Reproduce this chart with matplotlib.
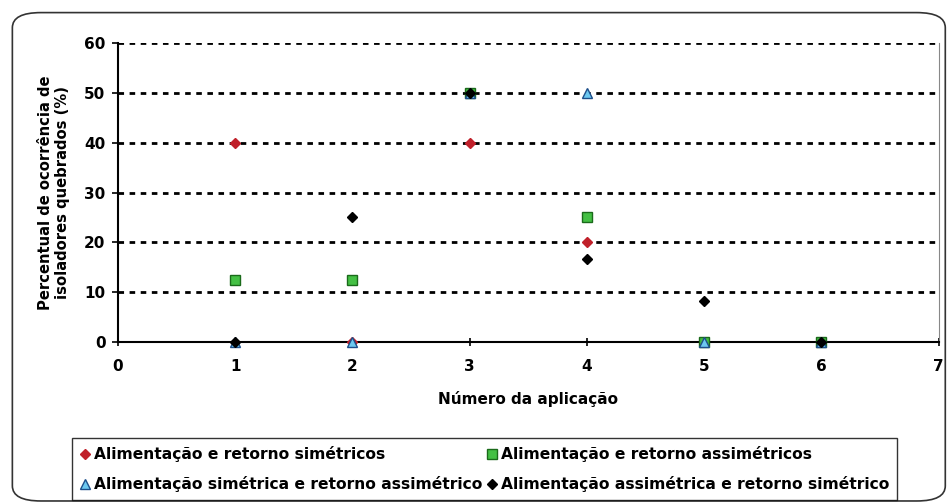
import matplotlib.pyplot as plt
from matplotlib.patches import FancyBboxPatch

plt.rcParams['font.family'] = ['DejaVu Sans']
plt.rcParams['font.weight'] = 'bold'

# dados
aplicacao = [1, 2, 3, 4, 5, 6]
sim_sim = [40, 0, 40, 20, 0, 0]
assim_assim = [12.5, 12.5, 50, 25, 0, 0]
sim_assim = [0, 0, 50, 50, 0, 0]
assim_sim = [0, 25, 50, 16.7, 8.3, 0]

nomes = ["Alimentação e retorno simétricos",
         "Alimentação e retorno assimétricos",
         "Alimentação simétrica e retorno assimétrico",
         "Alimentação assimétrica e retorno simétrico"]

fig = plt.figure(figsize=(9.51, 5.04), dpi=100)
fig.patches.append(FancyBboxPatch((0.013, 0.006), 0.981, 0.969, boxstyle="round,pad=0,rounding_size=0.03",
                                  transform=fig.transFigure, fill=False, ec='#333333', lw=1.2))
ax = fig.add_axes([0.124, 0.321, 0.863, 0.594])

h1, = ax.plot(aplicacao, sim_sim, linestyle='none', marker='D', ms=5, color='#c0202a', mec='#c0202a',
              clip_on=False, zorder=3)
h2, = ax.plot(aplicacao, assim_assim, linestyle='none', marker='s', ms=6.5, color='#44c044', mec='#1a6a1a',
              clip_on=False, zorder=3)
h3, = ax.plot(aplicacao, sim_assim, linestyle='none', marker='^', ms=6.5, color='#6cc8f0', mec='#1d4e8a',
              clip_on=False, zorder=3)
h4, = ax.plot(aplicacao, assim_sim, linestyle='none', marker='D', ms=5, color='black',
              clip_on=False, zorder=3)

ax.set_xlim(0, 7)
ax.set_ylim(0, 60)
ax.set_xticks(range(0, 8))
ax.set_yticks(range(0, 61, 10))
ax.yaxis.grid(True, color='black', linestyle=(0, (2, 2)), linewidth=2)
ax.set_axisbelow(True)
ax.spines['top'].set_visible(False)
ax.spines['right'].set_color('#888888')
ax.spines['left'].set_linewidth(1.5)
ax.spines['bottom'].set_linewidth(1.5)
ax.tick_params(axis='y', direction='out', length=4, width=1.2, labelsize=11, pad=5)
ax.tick_params(axis='x', direction='inout', length=6, width=1.2, labelsize=11, pad=9)

ax.set_xlabel("Número da aplicação", fontsize=11, fontweight='bold', labelpad=12)
ax.set_ylabel("Percentual de ocorrência de\nisoladores quebrados (%)", fontsize=10.6,
              fontweight='bold', labelpad=10)

leg = fig.legend([h1, h3, h2, h4], [nomes[0], nomes[2], nomes[1], nomes[3]], ncol=2,
                 loc='lower left', bbox_to_anchor=(0.076, 0.008),
                 prop={'weight': 'bold', 'size': 11.2}, frameon=True, fancybox=False,
                 edgecolor='black', handlelength=0.6, handletextpad=0.3, columnspacing=0.3,
                 borderpad=0.5, labelspacing=0.9, borderaxespad=0)
leg.get_frame().set_linewidth(1.0)

fig.savefig("out.png", dpi=100)
